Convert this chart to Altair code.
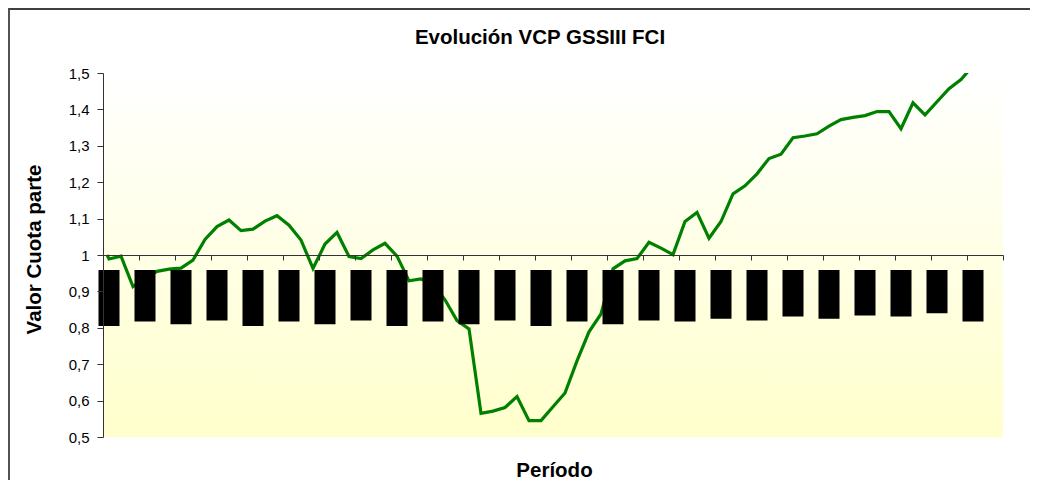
import altair as alt
import pandas as pd

# ---------------- data ----------------
title_text = "Evolución VCP GSSIII FCI"
x_title = "Período"
y_title = "Valor Cuota parte"

# period index (monthly); first entry is the fund's starting value
period = [-0.15] + list(range(73))
vcp = [1.000,
       0.989, 0.997, 0.913, 0.935, 0.955, 0.961, 0.964, 0.986, 1.043, 1.078,
       1.096, 1.067, 1.071, 1.093, 1.108, 1.082, 1.041, 0.963, 1.030, 1.062,
       0.996, 0.990, 1.014, 1.032, 0.997, 0.929, 0.934, 0.920, 0.877, 0.820,
       0.797, 0.565, 0.571, 0.581, 0.611, 0.545, 0.545, 0.583, 0.621, 0.709,
       0.789, 0.838, 0.962, 0.984, 0.990, 1.035, 1.019, 1.001, 1.092, 1.117,
       1.046, 1.092, 1.168, 1.190, 1.223, 1.265, 1.277, 1.322, 1.327, 1.333,
       1.354, 1.372, 1.378, 1.383, 1.394, 1.394, 1.347, 1.418, 1.385, 1.421,
       1.457, 1.482, 1.520]

# (illegible) period labels drawn as solid black blocks every 3rd period
label_period = [0, 3, 6, 9, 12, 15, 18, 21, 24, 27, 30, 33, 36, 39, 42, 45,
                48, 51, 54, 57, 60, 63, 66, 69, 72]
label_bottom = [0.805, 0.817, 0.810, 0.820, 0.805, 0.817, 0.810, 0.820,
                0.805, 0.817, 0.810, 0.820, 0.805, 0.817, 0.810, 0.820,
                0.817, 0.825, 0.820, 0.831, 0.825, 0.834, 0.831, 0.840,
                0.817]
label_top = 0.959
label_half_width = 0.875

y_ticks = [0.5, 0.6, 0.7, 0.8, 0.9, 1.0, 1.1, 1.2, 1.3, 1.4, 1.5]
x_ticks = [-0.5, 2.5, 5.5, 8.5, 11.5, 14.5, 17.5, 20.5, 23.5, 26.5, 29.5,
           32.5, 35.5, 38.5, 41.5, 44.5, 47.5, 50.5, 53.5, 56.5, 59.5, 62.5,
           65.5, 68.5, 71.5, 74.5]

# ---------------- tables ----------------
line_df = pd.DataFrame({"periodo": period, "vcp": vcp})
block_df = pd.DataFrame({
    "periodo": [p - label_half_width for p in label_period],
    "periodo_fin": [p + label_half_width for p in label_period],
    "vcp": label_bottom,
    "vcp_top": [label_top] * len(label_period),
})
one = pd.DataFrame({"a": [0]})

W, H = 900, 364
FONT = "Liberation Sans"
AXC = "#333333"

x_scale = alt.Scale(domain=[-0.5, 74.5], nice=False, zero=False)
y_scale = alt.Scale(domain=[0.5, 1.5], nice=False, zero=False)

x_axis = alt.Axis(
    values=x_ticks, labels=False, grid=False, offset=-182,
    domainColor=AXC, tickColor=AXC, tickSize=5, zindex=1,
    title=x_title, titleFont=FONT, titleFontSize=20.5, titleFontWeight="bold",
    titleColor="black", titleX=451, titleY=221, titleAlign="center",
    titleBaseline="alphabetic",
)
y_axis = alt.Axis(
    values=y_ticks, grid=False, domainColor=AXC, tickColor=AXC, tickSize=6,
    labelExpr="replace(format(datum.value, '.1~f'), '.', ',')",
    labelFont=FONT, labelFontSize=15, labelColor="black", labelPadding=8,
    zindex=1,
    title=y_title, titleFont=FONT, titleFontSize=20.5, titleFontWeight="bold",
    titleColor="black", titleX=-63, titleY=176, titleAlign="center",
    titleBaseline="alphabetic", titleAngle=270,
)

background = alt.Chart(one).mark_rect(
    fill=alt.LinearGradient(
        gradient="linear",
        stops=[alt.GradientStop(color="#ffffff", offset=0),
               alt.GradientStop(color="#ffffcc", offset=1)],
        x1=0, x2=0, y1=0, y2=1,
    )
).encode(x=alt.value(0), x2=alt.value(W), y=alt.value(0), y2=alt.value(H))

line = alt.Chart(line_df).mark_line(
    color="#008000", strokeWidth=3.2, clip=True
).encode(
    x=alt.X("periodo:Q", scale=x_scale, axis=x_axis),
    y=alt.Y("vcp:Q", scale=y_scale, axis=y_axis),
)

blocks = alt.Chart(block_df).mark_rect(color="black").encode(
    x=alt.X("periodo:Q", scale=x_scale, axis=x_axis),
    x2="periodo_fin:Q",
    y=alt.Y("vcp:Q", scale=y_scale, axis=y_axis),
    y2="vcp_top:Q",
)

frame = alt.Chart(one).mark_rect(
    fill="transparent", stroke="#404040", strokeWidth=1.8
).encode(
    x=alt.value(-94), x2=alt.value(945), y=alt.value(-64), y2=alt.value(430)
)

chart = alt.layer(background, line, blocks, frame).properties(
    width=W, height=H,
    title=alt.TitleParams(
        text=title_text, font=FONT, fontSize=20.5, fontWeight="bold",
        color="black", anchor="middle", dx=-13, baseline="alphabetic",
        offset=-56,
    ),
    autosize=alt.AutoSizeParams(type="none"),
    padding={"left": 95, "top": 65, "right": 27, "bottom": 43},
    background="white",
).configure_view(strokeWidth=0)

chart.save("out.html", embed_options={"renderer": "svg", "actions": False})
